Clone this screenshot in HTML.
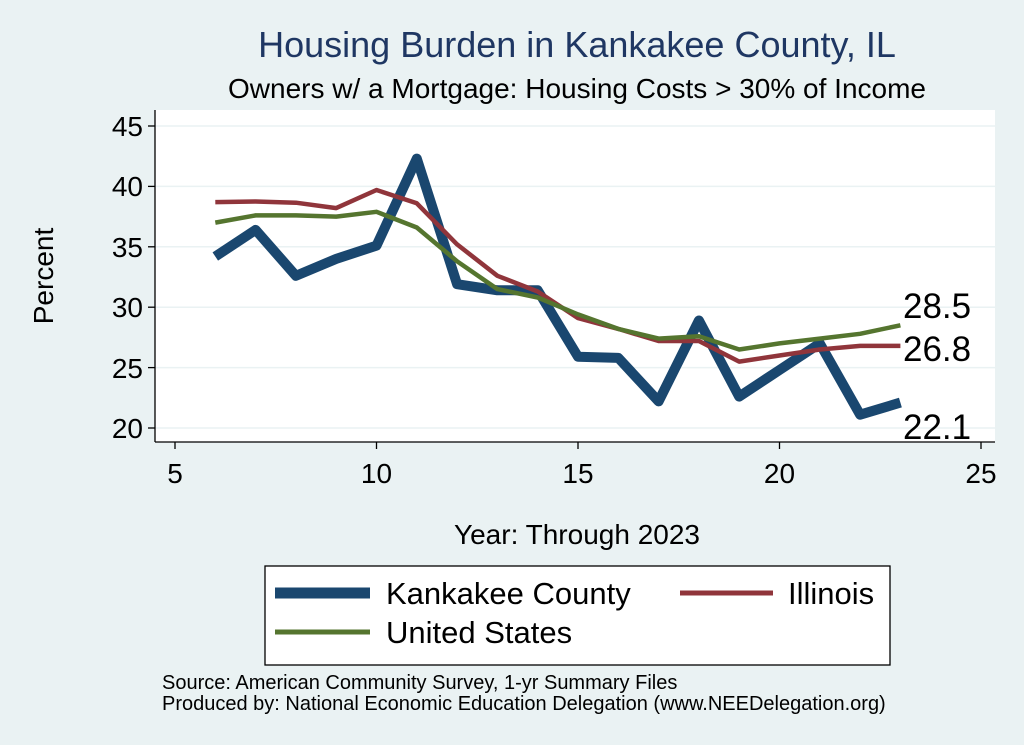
<!DOCTYPE html>
<html><head><meta charset="utf-8"><style>
body{margin:0;background:#eaf2f3;}
svg{display:block;font-family:"Liberation Sans",sans-serif;}
</style></head><body>
<svg id="s" width="1024" height="745" xmlns="http://www.w3.org/2000/svg">
<rect width="1024" height="745" fill="#eaf2f3"/>
<rect x="155" y="110" width="840" height="332" fill="#fff"/>
<g stroke="#eaf2f3" stroke-width="1.5">
<line x1="155" x2="995" y1="126" y2="126"/><line x1="155" x2="995" y1="186.4" y2="186.4"/>
<line x1="155" x2="995" y1="246.8" y2="246.8"/><line x1="155" x2="995" y1="307.2" y2="307.2"/>
<line x1="155" x2="995" y1="367.6" y2="367.6"/><line x1="155" x2="995" y1="428" y2="428"/>
</g>
<g stroke="#000" stroke-width="1.3">
<line x1="155" y1="110" x2="155" y2="442"/><line x1="155" y1="442" x2="995" y2="442"/>
<line x1="148" x2="155" y1="126" y2="126"/><line x1="148" x2="155" y1="186.4" y2="186.4"/>
<line x1="148" x2="155" y1="246.8" y2="246.8"/><line x1="148" x2="155" y1="307.2" y2="307.2"/>
<line x1="148" x2="155" y1="367.6" y2="367.6"/><line x1="148" x2="155" y1="428" y2="428"/>
<line y1="442" y2="449" x1="175" x2="175"/><line y1="442" y2="449" x1="376.5" x2="376.5"/>
<line y1="442" y2="449" x1="578" x2="578"/><line y1="442" y2="449" x1="779.5" x2="779.5"/>
<line y1="442" y2="449" x1="981" x2="981"/>
</g>
<g font-size="28" text-anchor="end">
<text x="143" y="136">45</text><text x="143" y="196">40</text><text x="143" y="257">35</text>
<text x="143" y="317">30</text><text x="143" y="378">25</text><text x="143" y="438">20</text>
</g>
<g font-size="28" text-anchor="middle">
<text x="175" y="483">5</text><text x="376.5" y="483">10</text><text x="578" y="483">15</text>
<text x="779.5" y="483">20</text><text x="981" y="483">25</text>
</g>
<text x="577" y="57" font-size="36" fill="#1f3763" text-anchor="middle">Housing Burden in Kankakee County, IL</text>
<text x="577" y="98" font-size="28" text-anchor="middle">Owners w/ a Mortgage: Housing Costs &gt; 30% of Income</text>
<text x="577" y="544" font-size="28" text-anchor="middle">Year: Through 2023</text>
<text transform="translate(53,276) rotate(-90)" font-size="28" text-anchor="middle">Percent</text>
<g id="lines" fill="none" stroke-linejoin="round"></g>
<g font-size="35"><text x="903" y="318">28.5</text><text x="903" y="361">26.8</text><text x="903" y="439">22.1</text></g>
<rect x="265" y="566" width="625" height="99" fill="#fff" stroke="#000" stroke-width="1.3"/>
<line x1="275" x2="370" y1="593" y2="593" stroke="#1a476f" stroke-width="11"/>
<text x="386" y="604" font-size="31">Kankakee County</text>
<line x1="680" x2="773" y1="593" y2="593" stroke="#90353b" stroke-width="5"/>
<text x="788" y="604" font-size="31">Illinois</text>
<line x1="275" x2="370" y1="632" y2="632" stroke="#55752f" stroke-width="5"/>
<text x="386" y="643" font-size="31">United States</text>
<text x="162" y="689" font-size="20">Source: American Community Survey, 1-yr Summary Files</text>
<text x="162" y="710" font-size="20">Produced by: National Economic Education Delegation (www.NEEDelegation.org)</text>
</svg>
<script>
var K=[34.2,36.4,32.6,34,35.1,42.3,31.9,31.4,31.4,25.9,25.8,22.2,28.9,22.6,24.8,27,21.1,22.1];
var I=[38.7,38.75,38.65,38.2,39.7,38.6,35.2,32.6,31.3,29.1,28.2,27.2,27.2,25.5,26,26.5,26.8,26.8];
var U=[37,37.6,37.6,37.5,37.9,36.6,33.8,31.5,30.8,29.4,28.2,27.4,27.6,26.5,27,27.4,27.8,28.5];
function p(a){return a.map(function(v,i){return (i?'L':'M')+(175+(i+1)*40.3).toFixed(1)+','+(428-(v-20)*12.08).toFixed(1)}).join('');}
var g=document.getElementById('lines');
g.innerHTML='<path d="'+p(K)+'" stroke="#1a476f" stroke-width="10"/><path d="'+p(I)+'" stroke="#90353b" stroke-width="4.5"/><path d="'+p(U)+'" stroke="#55752f" stroke-width="4.5"/>';
</script>
</body></html>
